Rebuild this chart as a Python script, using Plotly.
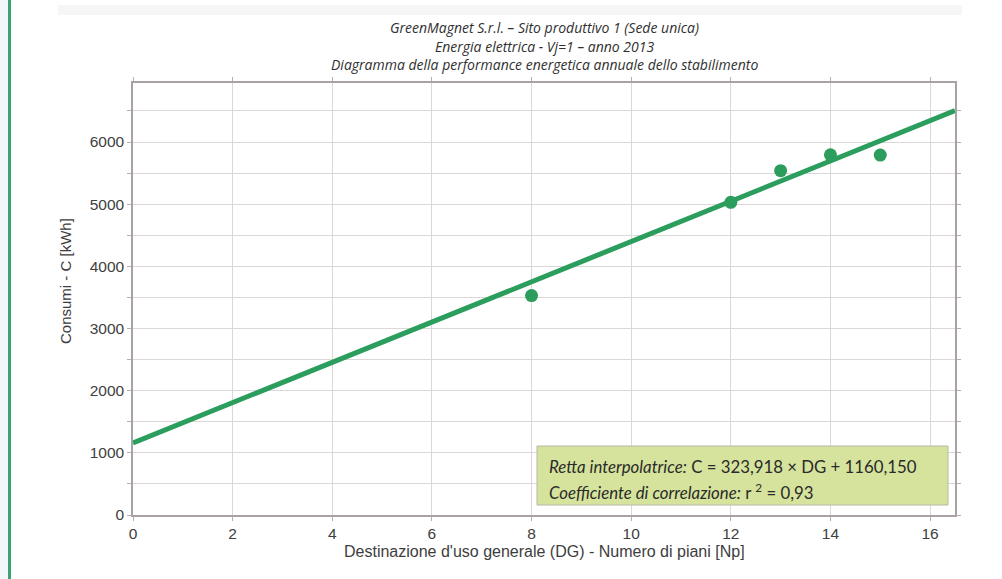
import plotly.graph_objects as go

# Energy performance data: number of floors vs. annual consumption
piani = [8, 12, 13, 14, 15]
consumi = [3530, 5030, 5540, 5795, 5790]

# Regression line coefficients
pendenza = 323.918
intercetta = 1160.150
r2 = 0.93
x_range = [0, 16.5]
y_range = [0, 6950]

titolo = [
    "GreenMagnet S.r.l. – Sito produttivo 1 (Sede unica)",
    "Energia elettrica - Vj=1 – anno 2013",
    "Diagramma della performance energetica annuale dello stabilimento",
]

verde = "#2b9d5d"
grigio_testo = "#3d3d3d"

retta_x = x_range
retta_y = [pendenza * x + intercetta for x in retta_x]

fig = go.Figure()
fig.add_trace(go.Scatter(
    x=retta_x, y=retta_y, mode="lines",
    line=dict(color=verde, width=5), showlegend=False, hoverinfo="skip",
))
fig.add_trace(go.Scatter(
    x=piani, y=consumi, mode="markers",
    marker=dict(color=verde, size=13), showlegend=False,
))

axis_common = dict(
    showline=True, linecolor="#a8a2a2", linewidth=1.5, mirror="ticks",
    ticks="outside", ticklen=4, tickcolor="#b5b0b0",
    gridcolor="#ddd8d8", gridwidth=1, zeroline=False,
    tickfont=dict(family="Liberation Sans, Arial", size=15.5, color="#404040"),
)

fig.update_xaxes(range=x_range, dtick=2, tick0=0, **axis_common)
fig.update_yaxes(
    range=y_range, dtick=1000, tick0=0,
    minor=dict(dtick=500, showgrid=True, gridcolor="#ddd8d8", ticks="outside",
               ticklen=4, tickcolor="#b5b0b0"),
    **axis_common,
)

shapes = [
    # left accent bar and page strip
    dict(type="rect", xref="paper", yref="paper", x0=-133 / 822, x1=-125 / 822,
         y0=-64 / 432, y1=1 + 83 / 432, fillcolor="#f3f7f9", line_width=0, layer="below"),
    dict(type="rect", xref="paper", yref="paper", x0=-125 / 822, x1=-122 / 822,
         y0=-64 / 432, y1=1 + 83 / 432, fillcolor="#3aa470", line_width=0),
    # faint header band
    dict(type="rect", xref="paper", yref="paper", x0=-75 / 822, x1=1 + 7 / 822,
         y0=(515 - 15) / 432, y1=(515 - 5) / 432,
         fillcolor="#f5f6f5", line_width=0, layer="below"),
    # regression info box
    dict(type="rect", xref="paper", yref="paper",
         x0=(537 - 133) / 822, x1=(948 - 133) / 822,
         y0=(515 - 505) / 432, y1=(515 - 446) / 432,
         fillcolor="#d5e39c", line=dict(color="#b8b8a8", width=1)),
]

annotations = []
for i, riga in enumerate(titolo):
    annotations.append(dict(
        text=f"<i>{riga}</i>", xref="paper", yref="paper", x=0.5,
        y=(515 - (27 + 19 * i)) / 432, xanchor="center", yanchor="middle",
        showarrow=False, font=dict(family="Open Sans", size=14, color="#303030"),
    ))

annotations += [
    dict(text=f"<i>Retta interpolatrice:</i> C = {pendenza:.3f} × DG + {intercetta:.3f}".replace(".", ","),
         xref="paper", yref="paper", x=(547 - 133) / 822, y=(515 - 466) / 432,
         xanchor="left", yanchor="middle", showarrow=False,
         font=dict(family="Lato", size=16.8, color="#2a2a2a")),
    dict(text=f"<i>Coefficiente di correlazione:</i> r <sup>2</sup> = {r2:.2f}".replace(".", ","),
         xref="paper", yref="paper", x=(547 - 133) / 822, y=(515 - 491) / 432,
         xanchor="left", yanchor="middle", showarrow=False,
         font=dict(family="Lato", size=16.8, color="#2a2a2a")),
    dict(text="Destinazione d'uso generale (DG) - Numero di piani [Np]",
         xref="paper", yref="paper", x=0.5, y=(515 - 551) / 432,
         xanchor="center", yanchor="middle", showarrow=False,
         font=dict(family="Liberation Sans, Arial", size=16, color=grigio_testo)),
    dict(text="Consumi - C [kWh]", textangle=-90,
         xref="paper", yref="paper", x=(65 - 133) / 822, y=(515 - 281) / 432,
         xanchor="center", yanchor="middle", showarrow=False,
         font=dict(family="Liberation Sans, Arial", size=15, color=grigio_testo)),
]

fig.update_layout(
    width=1002, height=579,
    margin=dict(l=133, r=47, t=83, b=64),
    paper_bgcolor="white", plot_bgcolor="white",
    shapes=shapes, annotations=annotations,
)

fig.write_html("out.html")
